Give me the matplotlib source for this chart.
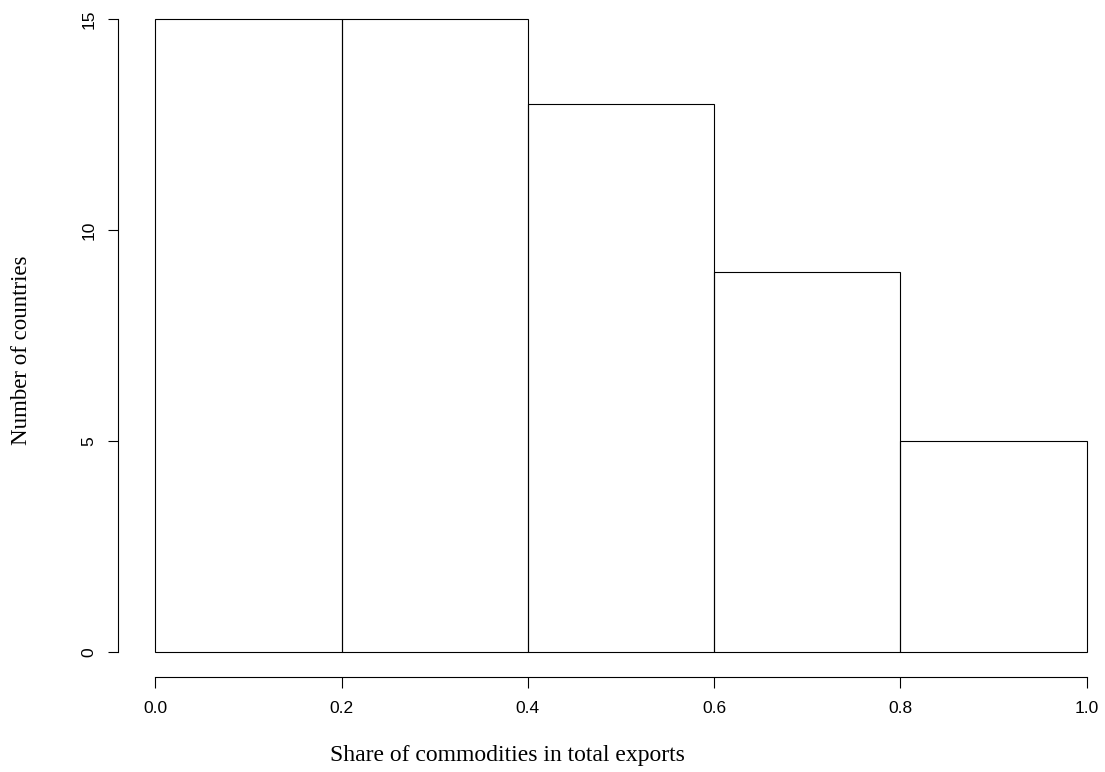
import matplotlib
matplotlib.use('Agg')
import matplotlib.pyplot as plt

# histogram bins and counts
bin_edges = [0.0, 0.2, 0.4, 0.6, 0.8, 1.0]
counts = [15, 15, 13, 9, 5]
x_ticks = [0.0, 0.2, 0.4, 0.6, 0.8, 1.0]
x_tick_labels = ['0.0', '0.2', '0.4', '0.6', '0.8', '1.0']
y_ticks = [0, 5, 10, 15]

fig = plt.figure(figsize=(11.05, 7.72), dpi=100)
ax = fig.add_axes([118 / 1105, 95 / 772, 1006 / 1105, 683 / 772])

widths = [bin_edges[i + 1] - bin_edges[i] for i in range(len(counts))]
ax.bar(bin_edges[:-1], counts, width=widths, align='edge',
       fill=False, edgecolor='black', linewidth=0.8)

ax.set_xlim(-0.04, 1.04)
ax.set_ylim(-0.6, 15.6)

for s in ['top', 'right']:
    ax.spines[s].set_visible(False)
ax.spines['left'].set_bounds(0, 15)
ax.spines['bottom'].set_bounds(0, 1)
ax.spines['left'].set_linewidth(0.8)
ax.spines['bottom'].set_linewidth(0.8)

ax.set_xticks(x_ticks)
ax.set_xticklabels(x_tick_labels, family='Liberation Sans', fontsize=12.5)
ax.set_yticks(y_ticks)
ax.set_yticklabels([str(v) for v in y_ticks], family='Liberation Sans',
                   fontsize=12.5, rotation=90, va='center')
ax.tick_params(axis='x', length=8, width=0.8, pad=9)
ax.tick_params(axis='y', length=7.5, width=0.8, pad=8)

# axis titles placed like the R output
fig.text(507 / 1105, (772 - 761) / 772, 'Share of commodities in total exports',
         family='Liberation Serif', fontsize=17, ha='center', va='baseline')
fig.text(22 / 1105, (772 - 350) / 772, 'Number of countries',
         family='Liberation Serif', fontsize=16.5, ha='center', va='center',
         rotation=90)

fig.savefig('out.png', dpi=100)
